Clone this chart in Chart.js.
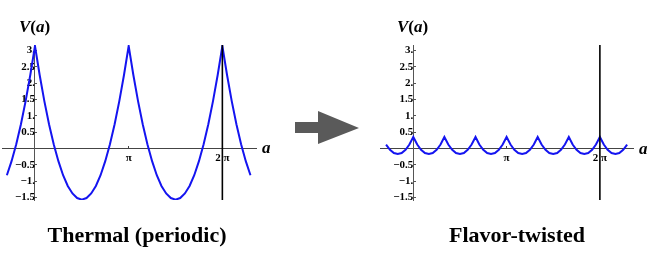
<!DOCTYPE html>
<html>
<head>
<meta charset="utf-8">
<script src="https://cdn.jsdelivr.net/npm/chart.js@4.4.0/dist/chart.umd.min.js"></script>
<style>
  body { margin: 0; background: #fff; }
  #wrap { position: relative; width: 654px; height: 256px; overflow: hidden; font-family: 'Liberation Serif', 'Times New Roman', serif; }
  canvas { position: absolute; top: 0; }
  .lbl { position: absolute; font-weight: bold; font-size: 17px; line-height: 17px; white-space: nowrap; color: #000; }
  .cap { position: absolute; top: 222px; font-weight: bold; font-size: 22px; line-height: 26px; text-align: center; width: 240px; }
  svg { position: absolute; left: 0; top: 0; }
</style>
</head>
<body>
<div id="wrap">
  <canvas id="thermalChart" width="300" height="215" style="left:0"></canvas>
  <canvas id="twistedChart" width="304" height="215" style="left:350px"></canvas>

  <div class="lbl" style="left:19px;top:18px"><i>V</i>(<i>a</i>)</div>
  <div class="lbl" style="left:397px;top:18px"><i>V</i>(<i>a</i>)</div>
  <div class="lbl" style="left:262px;top:139px"><i>a</i></div>
  <div class="lbl" style="left:639px;top:140px"><i>a</i></div>

  <svg width="654" height="256">
    <polygon points="295,122 318,122 318,111 359,128 318,144 318,133 295,133" fill="#5a5a5a"/>
  </svg>

  <div class="cap" style="left:17px">Thermal (periodic)</div>
  <div class="cap" style="left:397px">Flavor-twisted</div>
</div>

<script>
// x in units of pi
const thermalA = [
  -0.3, -0.25, -0.2, -0.15, -0.1, -0.05,
  0, 0.05, 0.1, 0.15, 0.2, 0.25, 0.3, 0.35, 0.4, 0.45,
  0.5, 0.55, 0.6, 0.65, 0.7, 0.75, 0.8, 0.85, 0.9, 0.95,
  1, 1.05, 1.1, 1.15, 1.2, 1.25, 1.3, 1.35, 1.4, 1.45,
  1.5, 1.55, 1.6, 1.65, 1.7, 1.75, 1.8, 1.85, 1.9, 1.95,
  2, 2.05, 2.1, 2.15, 2.2, 2.25, 2.3
];
const thermalV = [
  -0.82, -0.39, 0.13, 0.74, 1.45, 2.25,
  3.14, 2.25, 1.45, 0.74, 0.13, -0.39, -0.82, -1.15, -1.38, -1.52,
  -1.57, -1.52, -1.38, -1.15, -0.82, -0.39, 0.13, 0.74, 1.45, 2.25,
  3.14, 2.25, 1.45, 0.74, 0.13, -0.39, -0.82, -1.15, -1.38, -1.52,
  -1.57, -1.52, -1.38, -1.15, -0.82, -0.39, 0.13, 0.74, 1.45, 2.25,
  3.14, 2.25, 1.45, 0.74, 0.13, -0.39, -0.82
];

const twistedA = [
  -0.292, -0.25, -0.208, -0.167, -0.125, -0.083, -0.042, 0,
  0.042, 0.083, 0.125, 0.167, 0.208, 0.25, 0.292, 0.333,
  0.375, 0.417, 0.458, 0.5, 0.542, 0.583, 0.625, 0.667,
  0.708, 0.75, 0.792, 0.833, 0.875, 0.917, 0.958, 1,
  1.042, 1.083, 1.125, 1.167, 1.208, 1.25, 1.292, 1.333,
  1.375, 1.417, 1.458, 1.5, 1.542, 1.583, 1.625, 1.667,
  1.708, 1.75, 1.792, 1.833, 1.875, 1.917, 1.958, 2,
  2.042, 2.083, 2.125, 2.167, 2.208, 2.25, 2.292
];
const twistedV = [
  0.12, -0.04, -0.14, -0.17, -0.14, -0.04, 0.12, 0.35,
  0.12, -0.04, -0.14, -0.17, -0.14, -0.04, 0.12, 0.35,
  0.12, -0.04, -0.14, -0.17, -0.14, -0.04, 0.12, 0.35,
  0.12, -0.04, -0.14, -0.17, -0.14, -0.04, 0.12, 0.35,
  0.12, -0.04, -0.14, -0.17, -0.14, -0.04, 0.12, 0.35,
  0.12, -0.04, -0.14, -0.17, -0.14, -0.04, 0.12, 0.35,
  0.12, -0.04, -0.14, -0.17, -0.14, -0.04, 0.12, 0.35,
  0.12, -0.04, -0.14, -0.17, -0.14, -0.04, 0.12
];

const yTickVals = [-1.5, -1, -0.5, 0.5, 1, 1.5, 2, 2.5, 3];
const yTickLabels = ['\u22121.5', '\u22121.', '\u22120.5', '0.5', '1.', '1.5', '2.', '2.5', '3.'];
const xTickVals = [1, 2];
const xTickLabels = ['\u03c0', '2 \u03c0'];
const markerA = 2; // vertical line at 2 pi

const yMin = -1.58, yMax = 3.17;
const tickFont = { family: 'Liberation Serif', size: 11, weight: 'bold' };

function makeChart(id, xs, vs, xMin, xMax, pad) {
  const ctx = document.getElementById(id).getContext('2d');
  return new Chart(ctx, {
    type: 'line',
    data: {
      datasets: [
        {
          data: [{ x: markerA, y: yMin }, { x: markerA, y: yMax }],
          borderColor: '#000',
          borderWidth: 1.6,
          pointRadius: 0
        },
        {
          data: xs.map((a, i) => ({ x: a, y: vs[i] })),
          borderColor: '#1414f0',
          borderWidth: 2,
          pointRadius: 0,
          tension: 0,
          fill: false
        }
      ]
    },
    options: {
      responsive: false,
      animation: false,
      layout: { padding: pad },
      plugins: { legend: { display: false }, tooltip: { enabled: false } },
      scales: {
        x: {
          type: 'linear',
          min: xMin,
          max: xMax,
          position: { y: 0 },
          afterBuildTicks: s => { s.ticks = xTickVals.map(v => ({ value: v })); },
          ticks: { callback: (v, i) => xTickLabels[i], font: tickFont, color: '#000', padding: 6, autoSkip: false, maxRotation: 0 },
          grid: { drawOnChartArea: false, tickLength: -3, color: '#444' },
          border: { color: '#444', width: 1 }
        },
        y: {
          type: 'linear',
          min: yMin,
          max: yMax,
          position: { x: 0 },
          afterBuildTicks: s => { s.ticks = yTickVals.map(v => ({ value: v })); },
          ticks: { callback: (v, i) => yTickLabels[i], font: tickFont, color: '#000', padding: 5, autoSkip: false },
          grid: { drawOnChartArea: false, tickLength: -3, color: '#555' },
          border: { color: '#555', width: 1 }
        }
      }
    }
  });
}

const thermalChart = makeChart('thermalChart', thermalA, thermalV, -0.352, 2.359,
  { left: 2, top: 45, right: 44, bottom: 15 });
const twistedChart = makeChart('twistedChart', twistedA, twistedV, -0.357, 2.355,
  { left: 30, top: 45, right: 21, bottom: 15 });
</script>
</body>
</html>
